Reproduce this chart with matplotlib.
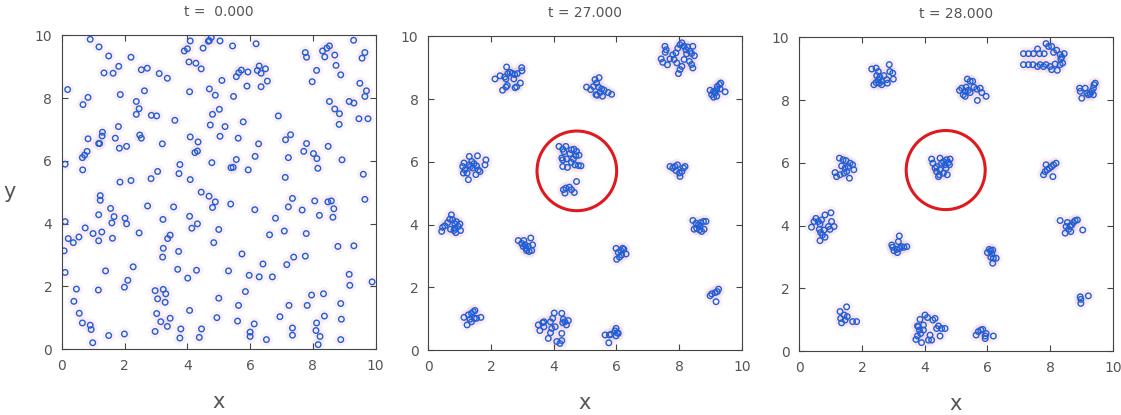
import numpy as np
import matplotlib
matplotlib.use("Agg")
import matplotlib.pyplot as plt
from matplotlib.patches import Circle

# panel titles / labels
titles = ["t =  0.000", "t = 27.000", "t = 28.000"]
ticks = [0, 2, 4, 6, 8, 10]

# t = 0 : scattered particles (x, y)
pts_t0 = [
    (0.90, 9.87), (1.18, 9.63), (1.49, 9.34), (2.20, 9.30), (1.34, 8.80), (1.63, 8.79),
    (1.81, 9.01), (2.53, 8.90), (2.72, 8.95), (3.10, 8.78), (3.36, 8.63), (0.18, 8.27),
    (0.83, 8.02), (0.67, 7.79), (1.86, 8.11), (2.63, 8.23), (2.37, 7.89), (2.46, 7.66),
    (2.37, 7.48), (2.85, 7.45), (3.02, 7.43), (3.60, 7.29), (1.80, 7.09), (1.29, 6.91),
    (1.28, 6.79), (0.83, 6.70), (1.70, 6.72), (1.17, 6.55), (1.20, 6.55), (1.83, 6.40),
    (2.06, 6.46), (2.48, 6.82), (2.53, 6.72), (3.20, 6.54), (0.80, 6.30), (0.72, 6.18),
    (0.65, 6.10), (0.66, 5.71), (0.10, 5.89), (1.85, 5.32), (2.20, 5.37), (2.84, 5.43),
    (3.05, 5.66), (3.76, 5.88), (3.73, 5.59), (4.09, 9.82), (3.90, 9.50), (4.00, 9.57),
    (4.70, 9.83), (4.76, 9.93), (4.67, 9.81), (5.04, 9.82), (5.44, 9.66), (4.50, 9.59),
    (4.05, 9.15), (4.27, 9.11), (4.44, 8.93), (4.07, 8.20), (4.70, 8.29), (4.89, 8.09),
    (5.10, 8.56), (5.47, 8.05), (4.80, 7.48), (5.02, 7.64), (4.73, 7.14), (5.20, 7.09),
    (4.09, 6.76), (4.34, 6.60), (4.32, 6.31), (4.24, 6.26), (4.09, 5.40), (4.78, 5.94),
    (5.04, 6.78), (5.62, 6.72), (5.39, 5.78), (5.46, 5.79), (5.56, 6.04), (5.94, 5.71),
    (6.16, 6.14), (6.27, 6.54), (5.78, 7.24), (5.56, 8.68), (5.64, 8.81), (5.72, 8.89),
    (5.93, 8.83), (5.90, 8.38), (6.23, 8.88), (6.29, 9.02), (6.35, 8.79), (6.49, 8.93),
    (6.35, 8.36), (6.55, 8.54), (6.19, 9.73), (6.90, 7.43), (7.13, 6.67), (7.29, 6.83),
    (7.22, 6.10), (7.12, 5.47), (7.76, 9.45), (7.80, 9.30), (7.98, 8.52), (8.12, 8.88),
    (8.31, 9.50), (8.38, 9.31), (8.45, 9.59), (8.53, 9.66), (8.70, 9.37), (8.74, 9.04),
    (8.89, 8.74), (8.53, 7.89), (8.70, 7.65), (8.85, 7.50), (8.84, 7.16), (9.30, 9.84),
    (9.50, 8.47), (9.57, 9.27), (9.66, 9.45), (9.71, 8.23), (9.66, 8.05), (9.16, 7.89),
    (9.31, 7.84), (9.47, 7.34), (9.76, 7.34), (7.71, 6.30), (7.80, 6.55), (8.02, 6.23),
    (8.13, 6.07), (8.16, 5.76), (8.49, 6.46), (8.93, 6.03), (9.61, 5.57), (9.66, 4.77),
    (9.89, 2.14), (1.22, 4.89), (1.22, 4.74), (1.55, 4.48), (1.17, 4.28), (1.66, 4.22),
    (1.59, 4.02), (2.01, 4.17), (2.06, 3.99), (0.10, 4.06), (0.74, 3.86), (0.99, 3.68),
    (1.27, 3.73), (1.61, 3.53), (1.17, 3.45), (0.20, 3.52), (0.36, 3.39), (0.54, 3.57),
    (0.07, 3.13), (2.46, 3.70), (2.73, 4.56), (3.56, 4.53), (0.10, 2.44), (1.39, 2.49),
    (2.27, 2.62), (2.10, 2.19), (1.99, 1.97), (0.46, 1.91), (1.16, 1.88), (0.38, 1.52),
    (0.55, 1.14), (0.65, 0.83), (0.90, 0.76), (0.93, 0.62), (0.98, 0.20), (1.49, 0.43),
    (1.99, 0.48), (3.22, 4.13), (3.21, 2.93), (3.23, 3.21), (3.37, 3.52), (3.45, 3.63),
    (3.72, 3.11), (3.69, 2.54), (4.01, 2.26), (4.29, 2.51), (4.07, 4.23), (4.14, 3.85),
    (4.32, 3.99), (4.44, 5.00), (4.69, 4.87), (4.89, 4.69), (4.80, 4.51), (4.84, 3.39),
    (5.00, 3.81), (5.38, 4.62), (2.97, 1.86), (3.23, 1.90), (3.31, 1.76), (3.05, 1.60),
    (3.29, 1.49), (3.02, 1.13), (3.15, 0.87), (3.45, 0.98), (3.36, 0.72), (2.97, 0.56),
    (3.79, 0.64), (3.76, 0.35), (4.07, 1.23), (4.38, 0.37), (4.45, 0.64), (4.94, 1.00),
    (5.00, 1.62), (5.31, 2.49), (5.74, 3.03), (5.63, 1.39), (5.60, 0.89), (5.85, 1.83),
    (5.97, 2.35), (6.29, 2.30), (6.41, 2.71), (6.71, 2.30), (6.00, 0.54), (6.00, 0.40),
    (6.13, 0.80), (6.52, 0.30), (6.15, 4.44), (6.62, 3.64), (6.81, 4.17), (7.09, 3.76),
    (7.22, 4.53), (7.35, 4.80), (7.66, 4.43), (7.17, 2.69), (7.39, 2.93), (7.76, 2.96),
    (7.79, 3.68), (8.06, 4.72), (8.21, 4.26), (8.48, 4.69), (8.59, 4.72), (8.67, 4.47),
    (8.64, 4.20), (8.80, 3.27), (9.31, 3.29), (9.16, 2.38), (9.18, 2.03), (8.89, 1.45),
    (8.91, 0.95), (8.89, 0.30), (6.95, 1.03), (7.24, 1.39), (7.35, 0.67), (7.35, 0.44),
    (7.82, 1.39), (7.96, 1.72), (8.34, 1.76), (8.37, 1.05), (8.12, 0.83), (8.10, 0.59),
    (8.23, 0.40), (8.17, 0.14),
]

# t = 27 : clustered particles
pts_t27 = [
    (2.13, 8.64), (2.29, 8.74), (2.50, 9.02), (2.44, 8.70), (2.54, 8.81), (2.61, 8.85),
    (2.48, 8.64), (2.68, 8.82), (2.76, 8.78), (2.84, 8.81), (2.99, 8.90), (2.98, 9.00),
    (2.73, 8.64), (2.52, 8.43), (2.48, 8.38), (2.37, 8.28), (2.77, 8.36), (2.82, 8.39),
    (2.94, 8.51),
    (5.05, 8.38), (5.18, 8.30), (5.32, 8.62), (5.45, 8.68), (5.37, 8.51), (5.27, 8.40),
    (5.43, 8.38), (5.53, 8.32), (5.61, 8.28), (5.74, 8.21), (5.85, 8.15), (5.48, 8.21),
    (5.35, 8.14), (5.56, 8.09), (5.39, 8.12),
    (7.55, 9.68), (7.59, 9.57), (7.56, 9.49), (7.43, 9.28), (7.48, 9.17), (7.63, 9.09),
    (7.71, 9.28), (7.84, 9.26), (7.90, 9.47), (7.96, 9.62), (8.03, 9.73), (8.09, 9.79),
    (8.16, 9.68), (8.22, 9.57), (8.27, 9.66), (8.35, 9.52), (8.40, 9.45), (8.44, 9.68),
    (8.49, 9.38), (8.33, 9.20), (8.40, 9.10), (8.44, 8.99), (8.16, 9.26), (8.09, 9.04),
    (8.03, 8.94), (7.98, 8.81), (8.24, 9.44), (7.80, 9.41), (7.93, 9.15),
    (8.99, 8.28), (9.04, 8.14), (9.10, 8.06), (9.15, 8.19), (9.20, 8.30), (9.22, 8.40),
    (9.29, 8.46), (9.33, 8.51), (9.20, 8.09), (9.31, 8.32), (9.47, 8.23), (9.10, 8.24),
    (1.14, 5.96), (1.10, 5.85), (1.17, 5.74), (1.24, 5.64), (1.28, 5.43), (1.31, 5.90),
    (1.35, 5.85), (1.39, 6.01), (1.46, 5.94), (1.54, 5.87), (1.57, 6.19), (1.31, 6.17),
    (1.60, 5.74), (1.52, 5.59), (1.65, 5.69), (1.81, 5.90), (1.84, 6.06), (1.12, 5.64),
    (1.41, 5.80),
    (0.43, 3.78), (0.46, 3.91), (0.53, 3.96), (0.62, 4.06), (0.69, 4.17), (0.74, 4.31),
    (0.78, 4.15), (0.85, 4.02), (0.90, 4.09), (1.01, 4.02), (0.96, 3.94), (0.85, 3.88),
    (0.82, 3.81), (0.71, 3.85), (0.88, 3.74), (1.03, 3.81),
    (2.87, 3.49), (2.98, 3.40), (3.05, 3.49), (3.03, 3.30), (3.12, 3.24), (3.19, 3.30),
    (3.27, 3.57), (3.33, 3.35), (3.30, 3.17), (3.22, 3.14), (3.14, 3.17), (3.09, 3.35),
    (4.17, 6.49), (4.29, 6.40), (4.39, 6.49), (4.33, 6.32), (4.26, 6.12), (4.29, 6.06),
    (4.41, 6.09), (4.52, 6.26), (4.57, 6.38), (4.65, 6.40), (4.73, 6.33), (4.81, 6.21),
    (4.71, 6.19), (4.63, 6.09), (4.57, 5.98), (4.68, 5.90), (4.79, 5.88), (4.87, 5.87),
    (4.29, 5.85), (4.44, 5.82), (4.73, 5.37), (4.39, 5.16), (4.50, 5.19), (4.57, 5.11),
    (4.66, 5.02), (4.36, 5.00), (4.31, 5.11),
    (7.71, 5.85), (7.80, 5.80), (7.87, 5.85), (7.95, 5.90), (7.90, 5.72), (8.01, 5.64),
    (8.09, 5.69), (8.14, 5.80), (8.19, 5.85), (8.03, 5.53),
    (8.44, 4.13), (8.54, 4.04), (8.62, 3.99), (8.69, 4.06), (8.78, 4.10), (8.86, 4.10),
    (8.48, 3.85), (8.56, 3.88), (8.65, 3.83), (8.72, 3.78), (8.80, 3.85), (8.67, 3.94),
    (5.99, 3.24), (6.06, 3.11), (6.14, 3.17), (6.20, 3.24), (6.24, 3.21), (6.31, 3.06),
    (6.17, 3.03), (6.10, 2.96), (6.01, 2.89),
    (8.99, 1.73), (9.04, 1.79), (9.15, 1.83), (9.22, 1.86), (9.26, 1.94), (9.18, 1.54),
    (1.14, 1.04), (1.24, 0.80), (1.28, 1.12), (1.33, 0.98), (1.38, 1.17), (1.44, 1.22),
    (1.49, 1.26), (1.47, 1.01), (1.38, 0.90), (1.54, 1.01), (1.68, 1.04),
    (3.51, 0.80), (3.65, 0.87), (3.69, 0.74), (3.56, 0.62), (3.69, 0.90), (3.83, 0.37),
    (3.90, 0.55), (3.94, 0.69), (3.90, 0.90), (3.97, 1.01), (4.02, 1.18), (4.05, 0.74),
    (4.10, 0.27), (4.20, 0.21), (4.26, 0.30), (4.26, 0.53), (4.29, 0.87), (4.36, 0.90),
    (4.41, 0.80), (4.26, 1.17), (4.31, 0.98), (4.47, 0.94),
    (5.64, 0.48), (5.78, 0.48), (5.83, 0.50), (5.76, 0.23), (5.96, 0.61), (5.99, 0.69),
    (6.03, 0.55), (6.06, 0.53), (5.99, 0.45),
]

# t = 28 : clusters merged further
pts_t28 = [
    (2.31, 8.99), (2.45, 9.02), (2.52, 8.91), (2.47, 8.78), (2.52, 8.65), (2.45, 8.56),
    (2.38, 8.49), (2.55, 8.54), (2.57, 8.73), (2.63, 8.60), (2.70, 8.78), (2.79, 8.65),
    (2.81, 8.54), (2.87, 9.13), (2.89, 8.91), (2.98, 8.86), (3.00, 8.67), (2.63, 8.49),
    (5.11, 8.31), (5.18, 8.38), (5.23, 8.17), (5.29, 8.28), (5.32, 8.41), (5.36, 8.67),
    (5.45, 8.60), (5.53, 8.60), (5.39, 8.31), (5.45, 8.24), (5.57, 8.41), (5.66, 8.35),
    (5.77, 8.38), (5.68, 7.99), (5.82, 8.24), (5.96, 8.12), (5.29, 8.12),
    (7.15, 9.48), (7.31, 9.48), (7.47, 9.48), (7.60, 9.63), (7.66, 9.48), (7.81, 9.48),
    (7.87, 9.80), (7.95, 9.71), (8.05, 9.71), (8.11, 9.52), (8.21, 9.59), (8.32, 9.45),
    (8.37, 9.37), (8.45, 9.48), (7.15, 9.13), (7.31, 9.13), (7.45, 9.13), (7.60, 9.07),
    (7.68, 9.13), (7.79, 9.07), (7.87, 9.13), (8.00, 9.07), (8.16, 9.15), (8.23, 8.95),
    (8.05, 8.97), (8.32, 9.13), (8.40, 9.18), (8.34, 9.31),
    (8.94, 8.38), (8.96, 8.28), (9.01, 8.06), (9.12, 8.38), (9.17, 8.22), (9.22, 8.17),
    (9.28, 8.20), (9.33, 8.28), (9.38, 8.38), (9.40, 8.49), (9.38, 8.17), (9.44, 8.54),
    (1.14, 5.69), (1.19, 5.56), (1.28, 6.15), (1.35, 5.90), (1.40, 6.10), (1.46, 5.83),
    (1.51, 5.72), (1.56, 5.88), (1.62, 5.99), (1.70, 5.94), (1.74, 5.78), (1.60, 5.51),
    (1.30, 5.62), (1.43, 5.67), (1.49, 6.07),
    (0.39, 3.95), (0.47, 4.13), (0.53, 4.23), (0.61, 4.13), (0.66, 4.05), (0.71, 4.18),
    (0.64, 3.88), (0.68, 3.78), (0.74, 3.70), (0.82, 3.63), (0.66, 3.52), (0.79, 3.86),
    (0.93, 3.97), (1.03, 4.13), (1.11, 3.97), (0.98, 3.88), (0.82, 4.34), (1.01, 4.41),
    (2.95, 3.38), (2.98, 3.31), (3.02, 3.20), (3.11, 3.24), (3.16, 3.49), (3.19, 3.67),
    (3.21, 3.28), (3.27, 3.33), (3.34, 3.31), (3.43, 3.33), (3.13, 3.14),
    (4.22, 6.12), (4.26, 5.99), (4.33, 5.83), (4.38, 5.72), (4.44, 5.56), (4.49, 6.15),
    (4.54, 5.99), (4.60, 6.04), (4.65, 5.94), (4.68, 5.83), (4.70, 6.10), (4.76, 6.01),
    (4.79, 5.94), (4.81, 6.12), (4.72, 5.62), (4.60, 5.67), (4.49, 5.78), (4.47, 5.62),
    (4.38, 5.88),
    (7.79, 5.62), (7.84, 5.72), (7.87, 5.94), (7.91, 5.78), (7.98, 5.83), (8.05, 5.88),
    (8.11, 5.94), (8.19, 5.99), (8.09, 5.56),
    (8.32, 4.16), (8.48, 3.76), (8.51, 3.97), (8.55, 4.10), (8.59, 3.88), (8.64, 3.99),
    (8.69, 4.02), (8.74, 4.10), (8.80, 4.16), (8.87, 4.18), (8.66, 3.81), (9.04, 3.86),
    (6.00, 3.14), (6.06, 3.24), (6.11, 3.20), (6.14, 3.10), (6.17, 3.22), (6.19, 2.96),
    (6.28, 2.96), (6.11, 2.99), (6.17, 2.80),
    (8.96, 1.73), (8.98, 1.65), (8.98, 1.52), (9.22, 1.76),
    (1.30, 1.26), (1.32, 1.04), (1.35, 0.90), (1.43, 1.15), (1.51, 1.41), (1.53, 1.10),
    (1.46, 0.99), (1.70, 0.94), (1.83, 0.94),
    (3.72, 0.37), (3.77, 0.48), (3.80, 0.78), (3.83, 0.67), (3.85, 1.01), (3.87, 0.56),
    (3.90, 0.27), (3.96, 0.67), (3.96, 0.83), (4.01, 1.15), (4.09, 1.07), (4.12, 0.35),
    (4.17, 0.51), (4.22, 0.35), (4.26, 0.99), (4.33, 1.04), (4.38, 0.72), (4.44, 0.80),
    (4.49, 0.48), (4.54, 0.72), (4.65, 0.72), (3.77, 0.80),
    (5.64, 0.51), (5.71, 0.62), (5.79, 0.67), (5.85, 0.69), (5.93, 0.48), (5.96, 0.56),
    (5.93, 0.40), (6.19, 0.48),
]

# highlighted region (center x, center y, radius) per panel, None = no circle
highlight = [None, (4.74, 5.71, 1.27), (4.67, 5.77, 1.26)]

gray = "#555555"
fig = plt.figure(figsize=(11.21, 4.15), dpi=100)
lefts = [0.0553, 0.382, 0.713]
bottoms = [0.159, 0.1566, 0.154]

for i, pts in enumerate([pts_t0, pts_t27, pts_t28]):
    ax = fig.add_axes([lefts[i], bottoms[i], 0.2797, 0.756])
    xs = np.array([p[0] for p in pts])
    ys = np.array([p[1] for p in pts])
    # faint pink halo, then blue ring
    ax.scatter(xs, ys, s=90, color="#f4c6d6", alpha=0.25, edgecolors="none", zorder=1)
    ax.scatter(xs, ys, s=16, facecolors="none", edgecolors="#1f5fd6", linewidths=1.0, zorder=2)
    if highlight[i] is not None:
        cx, cy, r = highlight[i]
        ax.add_patch(Circle((cx, cy), r, fill=False, edgecolor="#e0191f", linewidth=2.2, zorder=3))
    ax.set_xlim(0, 10)
    ax.set_ylim(0, 10)
    ax.set_xticks(ticks)
    ax.set_yticks(ticks)
    ax.tick_params(direction="in", top=True, right=True, length=4, width=0.8,
                   colors="#444444", labelcolor=gray, labelsize=10, pad=7)
    for sp in ax.spines.values():
        sp.set_color("#444444")
        sp.set_linewidth(0.8)
    ax.set_title(titles[i], color=gray, fontsize=10, pad=14)
    ax.set_xlabel("x", color=gray, fontsize=15, labelpad=14)
    if i == 0:
        ax.set_ylabel("y", color=gray, fontsize=15, rotation=0, labelpad=18, va="center")

fig.savefig("out.png", dpi=100)
